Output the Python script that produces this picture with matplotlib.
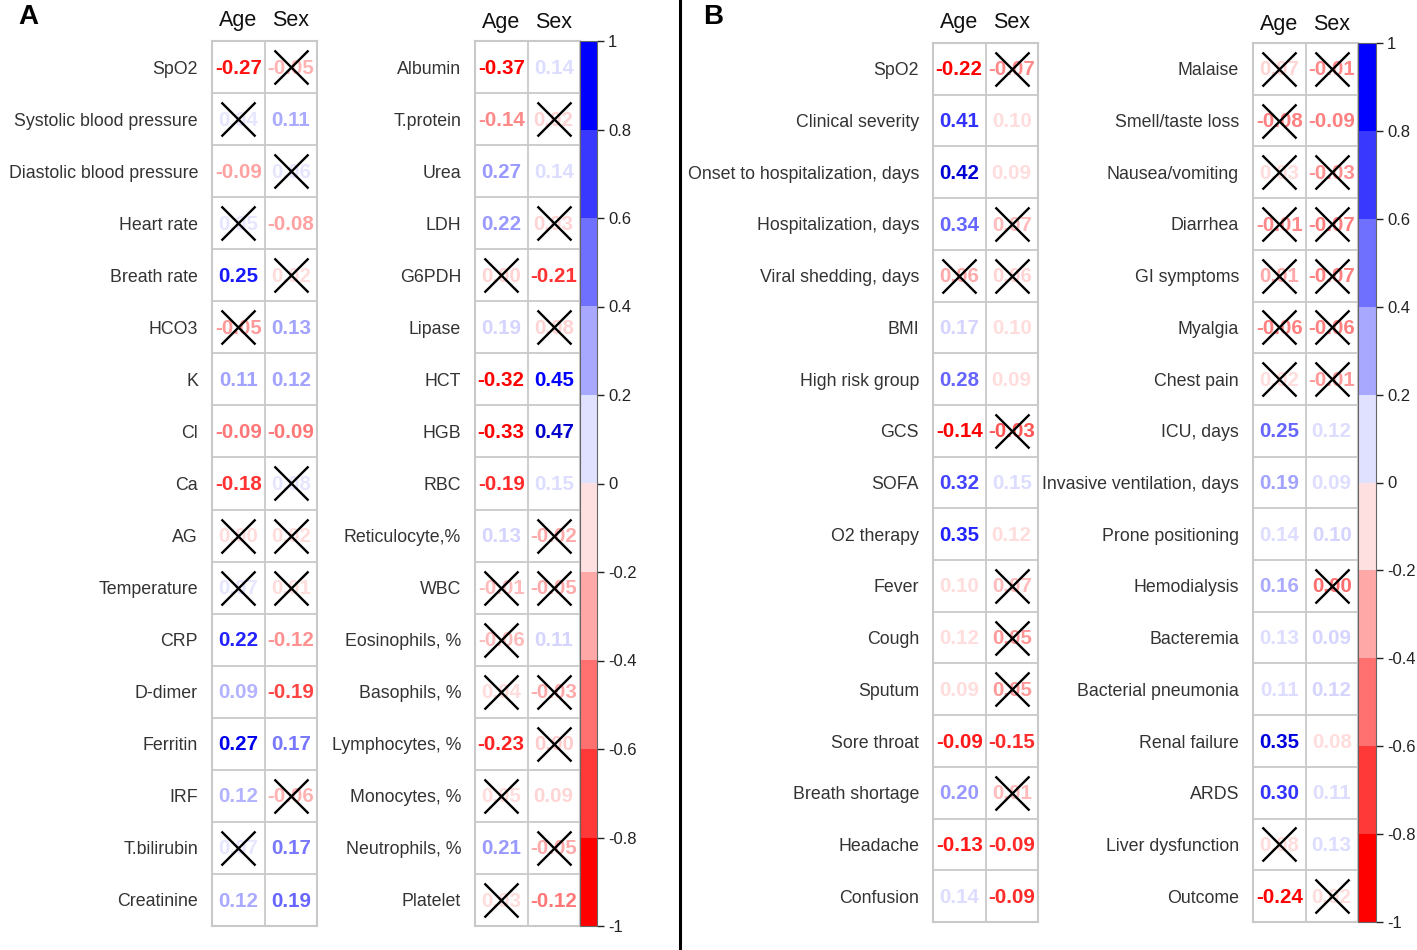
import matplotlib

matplotlib.use("Agg")
import matplotlib.pyplot as plt
import numpy as np
from matplotlib.colors import BoundaryNorm, ListedColormap
from matplotlib.lines import Line2D

plt.rcParams["font.family"] = ["Liberation Sans", "DejaVu Sans"]

# ---- data -------------------------------------------------------------
# *_txt: the number printed in the cell, *_shade: signed colour strength of
# that number, *_ns: 1 = crossed out (not significant)

a1_names = ["SpO2", "Systolic blood pressure", "Diastolic blood pressure", "Heart rate",
            "Breath rate", "HCO3", "K", "Cl", "Ca", "AG", "Temperature", "CRP",
            "D-dimer", "Ferritin", "IRF", "T.bilirubin", "Creatinine"]
a1_age_txt = ["-0.27", "0.04", "-0.09", "0.05", "0.25", "-0.05", "0.11", "-0.09", "-0.18",
              "0.00", "0.07", "0.22", "0.09", "0.27", "0.12", "0.07", "0.12"]
a1_age_shade = [-0.28, 0.03, -0.11, 0.03, 0.27, -0.12, 0.11, -0.16, -0.24,
                -0.04, 0.03, 0.26, 0.09, 0.33, 0.09, 0.03, 0.10]
a1_age_ns = [0, 1, 0, 1, 0, 1, 0, 0, 0, 1, 1, 0, 0, 0, 0, 1, 0]
a1_sex_txt = ["-0.05", "0.11", "0.06", "-0.08", "0.02", "0.13", "0.12", "-0.09", "0.08",
              "0.02", "0.01", "-0.12", "-0.19", "0.17", "-0.06", "0.17", "0.19"]
a1_sex_shade = [-0.09, 0.10, 0.03, -0.11, -0.04, 0.11, 0.11, -0.16, 0.03,
                -0.04, -0.04, -0.13, -0.22, 0.16, -0.09, 0.16, 0.18]
a1_sex_ns = [1, 0, 1, 0, 1, 0, 0, 0, 1, 1, 1, 0, 0, 0, 1, 0, 0]

a2_names = ["Albumin", "T.protein", "Urea", "LDH", "G6PDH", "Lipase", "HCT", "HGB", "RBC",
            "Reticulocyte,%", "WBC", "Eosinophils, %", "Basophils, %", "Lymphocytes, %",
            "Monocytes, %", "Neutrophils, %", "Platelet"]
a2_age_txt = ["-0.37", "-0.14", "0.27", "0.22", "0.00", "0.19", "-0.32", "-0.33", "-0.19",
              "0.13", "-0.01", "-0.06", "0.04", "-0.23", "0.05", "0.21", "0.03"]
a2_age_shade = [-0.30, -0.14, 0.12, 0.12, -0.05, 0.05, -0.30, -0.30, -0.25,
                0.05, -0.08, -0.08, -0.04, -0.26, -0.04, 0.12, -0.04]
a2_age_ns = [0, 0, 0, 0, 1, 0, 0, 0, 0, 0, 1, 1, 1, 0, 1, 0, 1]
a2_sex_txt = ["0.14", "0.02", "0.14", "0.03", "-0.21", "0.08", "0.45", "0.47", "0.15",
              "-0.02", "-0.05", "0.11", "-0.03", "0.00", "0.09", "-0.05", "-0.12"]
a2_sex_shade = [0.04, -0.05, 0.04, -0.05, -0.24, -0.05, 0.30, 0.40, 0.04,
                -0.10, -0.10, 0.05, -0.10, -0.06, -0.05, -0.10, -0.16]
a2_sex_ns = [0, 1, 0, 1, 0, 1, 0, 0, 0, 1, 1, 0, 1, 1, 0, 1, 0]

b1_names = ["SpO2", "Clinical severity", "Onset to hospitalization, days",
            "Hospitalization, days", "Viral shedding, days", "BMI", "High risk group",
            "GCS", "SOFA", "O2 therapy", "Fever", "Cough", "Sputum", "Sore throat",
            "Breath shortage", "Headache", "Confusion"]
b1_age_txt = ["-0.22", "0.41", "0.42", "0.34", "0.06", "0.17", "0.28", "-0.14", "0.32",
              "0.35", "0.10", "0.12", "0.09", "-0.09", "0.20", "-0.13", "0.14"]
b1_age_shade = [-0.30, 0.24, 0.38, 0.18, -0.10, 0.05, 0.18, -0.30, 0.22,
                0.26, -0.04, -0.04, -0.04, -0.27, 0.12, -0.27, 0.04]
b1_age_ns = [0, 0, 0, 0, 1, 0, 0, 0, 0, 0, 0, 0, 0, 0, 0, 0, 0]
b1_sex_txt = ["-0.07", "0.10", "0.09", "0.07", "0.06", "0.10", "0.09", "-0.03", "0.15",
              "0.12", "0.07", "0.05", "0.05", "-0.15", "0.01", "-0.09", "-0.09"]
b1_sex_shade = [-0.14, -0.04, -0.04, -0.08, -0.05, -0.04, -0.04, -0.20, 0.04,
                -0.04, -0.08, -0.12, -0.12, -0.25, -0.08, -0.25, -0.25]
b1_sex_ns = [1, 0, 0, 1, 1, 0, 0, 1, 0, 0, 1, 1, 1, 0, 1, 0, 0]

b2_names = ["Malaise", "Smell/taste loss", "Nausea/vomiting", "Diarrhea", "GI symptoms",
            "Myalgia", "Chest pain", "ICU, days", "Invasive ventilation, days",
            "Prone positioning", "Hemodialysis", "Bacteremia", "Bacterial pneumonia",
            "Renal failure", "ARDS", "Liver dysfunction", "Outcome"]
b2_age_txt = ["0.07", "-0.08", "0.03", "-0.01", "0.01", "-0.06", "0.02", "0.25", "0.19",
              "0.14", "0.16", "0.13", "0.11", "0.35", "0.30", "0.08", "-0.24"]
b2_age_shade = [-0.05, -0.15, -0.04, -0.14, -0.10, -0.15, -0.04, 0.18, 0.11,
                0.04, 0.10, 0.04, 0.04, 0.36, 0.24, -0.04, -0.30]
b2_age_ns = [1, 1, 1, 1, 1, 1, 1, 0, 0, 0, 0, 0, 0, 0, 0, 1, 0]
b2_sex_txt = ["-0.01", "-0.09", "-0.03", "-0.07", "-0.07", "-0.06", "-0.01", "0.12", "0.09",
              "0.10", "0.00", "0.09", "0.12", "0.08", "0.11", "0.13", "0.02"]
b2_sex_shade = [-0.14, -0.15, -0.13, -0.15, -0.15, -0.15, -0.12, 0.04, 0.04,
                0.05, -0.17, 0.05, 0.05, -0.04, 0.04, 0.04, -0.04]
b2_sex_ns = [1, 0, 1, 1, 1, 1, 1, 0, 0, 0, 1, 0, 0, 0, 0, 0, 1]

columns = ["Age", "Sex"]
cbar_ticks = [1, 0.8, 0.6, 0.4, 0.2, 0, -0.2, -0.4, -0.6, -0.8, -1]

# ---- style ------------------------------------------------------------
W, H = 1417, 950
GRID = "#c9c9c9"
LABEL_INK = "#333333"
CBAR_COLORS = ["#ff0000", "#ff3838", "#ff7070", "#ffa8a8", "#ffe0e0",
               "#e0e0ff", "#a8a8ff", "#7070ff", "#3838ff", "#0000ff"]


def px_rect(x0, y0, x1, y1):
    return [x0 / W, 1 - y1 / H, (x1 - x0) / W, (y1 - y0) / H]


def text_color(s):
    f = min(abs(s) / 0.3, 1.0)
    dark = min(max(abs(s) - 0.3, 0) / 0.12, 1.0) * 0.25
    if s >= 0:
        rgb = np.array([1 - f, 1 - f, 1.0])
    else:
        rgb = np.array([1.0, 1 - f, 1 - f])
    return tuple(rgb * (1 - dark))


def draw_block(fig, rect, names, txts, shades, nss, header_dy=-0.4):
    ax = fig.add_axes(rect)
    n = len(names)
    ax.set_xlim(0, 2)
    ax.set_ylim(n, 0)
    for k in range(1, 2):
        ax.axvline(k, color=GRID, lw=1.3)
    for k in range(1, n):
        ax.axhline(k, color=GRID, lw=1.3)
    for sp in ax.spines.values():
        sp.set_color(GRID)
        sp.set_linewidth(1.5)
    ax.set_xticks([])
    ax.set_yticks(np.arange(n) + 0.5, names)
    ax.tick_params(axis="y", length=0, pad=10, labelsize=12.8, labelcolor=LABEL_INK)
    for j, (col_txt, col_shade, col_ns) in enumerate(zip(txts, shades, nss)):
        for i in range(n):
            ax.text(j + 0.5, i + 0.52, col_txt[i], ha="center", va="center",
                    fontsize=14.8, fontweight="bold", color=text_color(col_shade[i]))
        ns = np.array(col_ns).astype(bool)
        rows = np.arange(n)[ns] + 0.5
        ax.scatter(np.full(len(rows), j + 0.5), rows, marker="x", s=600,
                   c="black", linewidths=1.7, zorder=3)
        ax.text(j + 0.5, header_dy, columns[j], ha="center", va="center",
                fontsize=15.5, color="#111111")
    return ax


def draw_cbar(fig, rect):
    cax = fig.add_axes(rect)
    cmap = ListedColormap(CBAR_COLORS)
    norm = BoundaryNorm(np.linspace(-1, 1, 11), cmap.N)
    cb = fig.colorbar(plt.cm.ScalarMappable(norm=norm, cmap=cmap), cax=cax,
                      ticks=cbar_ticks)
    cb.ax.set_yticklabels([f"{t:g}" for t in cbar_ticks])
    cb.outline.set_edgecolor("#666666")
    cb.outline.set_linewidth(0.8)
    cb.ax.tick_params(length=5, width=1, labelsize=12, colors="#222222", pad=3)
    return cb


fig = plt.figure(figsize=(W / 100, H / 100), dpi=100, facecolor="white")

draw_block(fig, px_rect(212, 41, 317, 926), a1_names,
           [a1_age_txt, a1_sex_txt], [a1_age_shade, a1_sex_shade], [a1_age_ns, a1_sex_ns])
draw_block(fig, px_rect(475, 41, 580, 926), a2_names,
           [a2_age_txt, a2_sex_txt], [a2_age_shade, a2_sex_shade], [a2_age_ns, a2_sex_ns],
           header_dy=-0.36)
draw_cbar(fig, px_rect(580, 41, 597, 926))

draw_block(fig, px_rect(933, 43, 1038, 922), b1_names,
           [b1_age_txt, b1_sex_txt], [b1_age_shade, b1_sex_shade], [b1_age_ns, b1_sex_ns])
draw_block(fig, px_rect(1253, 43, 1358, 922), b2_names,
           [b2_age_txt, b2_sex_txt], [b2_age_shade, b2_sex_shade], [b2_age_ns, b2_sex_ns],
           header_dy=-0.35)
draw_cbar(fig, px_rect(1358, 43, 1376, 922))

fig.add_artist(Line2D([680 / W, 680 / W], [0, 1], transform=fig.transFigure,
                      color="black", lw=2.2))
fig.text(28 / W, 1 - 17 / H, "A", fontsize=20, fontweight="bold", ha="center", va="center")
fig.text(713 / W, 1 - 17 / H, "B", fontsize=20, fontweight="bold", ha="center", va="center")

fig.savefig("out.png", dpi=100, facecolor="white")
plt.close(fig)
